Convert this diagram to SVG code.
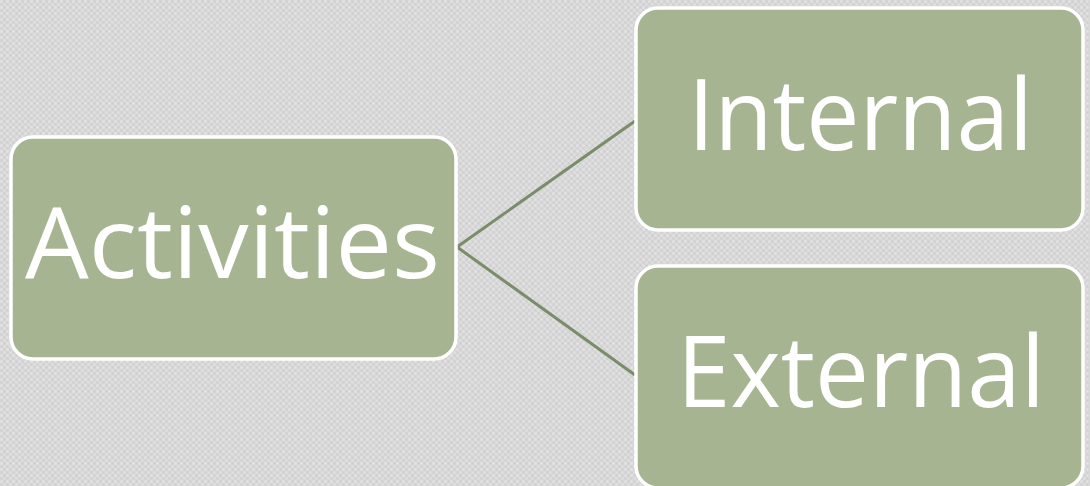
<svg xmlns="http://www.w3.org/2000/svg" width="1090" height="486" viewBox="0 0 1090 486">
  <defs>
    <pattern id="canvas" width="6" height="6" patternUnits="userSpaceOnUse">
      <rect width="6" height="6" fill="#d6d6d6"/>
      <circle cx="1.5" cy="1.5" r="1.3" fill="#e4e4e4"/>
      <circle cx="4.5" cy="4.5" r="1.3" fill="#e0e0e0"/>
      <circle cx="4.5" cy="1.5" r="0.8" fill="#cacaca"/>
      <circle cx="1.5" cy="4.5" r="0.8" fill="#cdcdcd"/>
    </pattern>
  </defs>
  <style>
    .box { fill: #a6b491; stroke: #ffffff; stroke-width: 3.5; }
    .label { font-family: "Open Sans", "Noto Sans", sans-serif; font-size: 98px; fill: #ffffff; }
    .conn { stroke: #7b8c6a; stroke-width: 3; fill: none; }
  </style>
  <rect width="1090" height="486" fill="url(#canvas)"/>
  <g id="connectors">
    <line class="conn" x1="457" y1="247" x2="635" y2="121"/>
    <line class="conn" x1="457" y1="247" x2="635" y2="375"/>
  </g>
  <g id="node-activities">
    <rect class="box" x="11" y="137" width="445" height="222" rx="22"/>
    <text class="label" x="25" y="278" textLength="415" lengthAdjust="spacingAndGlyphs">Activities</text>
  </g>
  <g id="node-internal">
    <rect class="box" x="636" y="8" width="447" height="222" rx="22"/>
    <text class="label" x="688" y="150" textLength="345" lengthAdjust="spacingAndGlyphs">Internal</text>
  </g>
  <g id="node-external">
    <rect class="box" x="636" y="266" width="447" height="222" rx="22"/>
    <text class="label" x="677" y="407" textLength="368" lengthAdjust="spacingAndGlyphs">External</text>
  </g>
</svg>
